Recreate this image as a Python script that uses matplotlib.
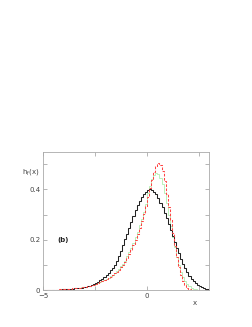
import numpy as np
import matplotlib
matplotlib.use("Agg")
import matplotlib.pyplot as plt
from matplotlib.ticker import MultipleLocator

# bin edges of the histograms (width 0.1, from -5 to 3)
bin_start = -5.0
bin_width = 0.1

h_black = [
    0.000, 0.000, 0.001, 0.001, 0.001, 0.001, 0.002, 0.002, 0.002, 0.003,
    0.003, 0.004, 0.004, 0.005, 0.006, 0.007, 0.008, 0.009, 0.010, 0.012,
    0.014, 0.016, 0.018, 0.021, 0.024, 0.028, 0.033, 0.039, 0.045, 0.052,
    0.060, 0.068, 0.078, 0.089, 0.101, 0.116, 0.134, 0.155, 0.178, 0.201,
    0.224, 0.248, 0.272, 0.296, 0.318, 0.337, 0.354, 0.369, 0.381, 0.391,
    0.398, 0.401, 0.398, 0.391, 0.380, 0.365, 0.348, 0.329, 0.308, 0.286,
    0.263, 0.240, 0.216, 0.192, 0.169, 0.146, 0.125, 0.105, 0.087, 0.071,
    0.057, 0.045, 0.035, 0.027, 0.020, 0.015, 0.011, 0.008, 0.005, 0.003,
]

h_green = [
    0.000, 0.000, 0.001, 0.001, 0.001, 0.002, 0.002, 0.002, 0.003, 0.003,
    0.004, 0.004, 0.005, 0.006, 0.006, 0.007, 0.008, 0.009, 0.011, 0.012,
    0.014, 0.015, 0.017, 0.019, 0.022, 0.024, 0.027, 0.031, 0.034, 0.039,
    0.043, 0.048, 0.054, 0.060, 0.067, 0.075, 0.084, 0.094, 0.105, 0.117,
    0.135, 0.151, 0.169, 0.188, 0.209, 0.232, 0.257, 0.284, 0.312, 0.341,
    0.385, 0.415, 0.440, 0.457, 0.465, 0.460, 0.445, 0.420, 0.386, 0.345,
    0.300, 0.254, 0.210, 0.170, 0.133, 0.100, 0.073, 0.051, 0.035, 0.024,
    0.016, 0.010, 0.006, 0.004, 0.002, 0.001, 0.001, 0.000, 0.000, 0.000,
]

h_red = [
    0.000, 0.001, 0.001, 0.001, 0.002, 0.002, 0.002, 0.003, 0.003, 0.004,
    0.004, 0.005, 0.005, 0.006, 0.007, 0.008, 0.009, 0.010, 0.011, 0.013,
    0.014, 0.016, 0.018, 0.020, 0.022, 0.025, 0.028, 0.031, 0.035, 0.039,
    0.043, 0.048, 0.053, 0.059, 0.066, 0.073, 0.081, 0.090, 0.100, 0.111,
    0.128, 0.143, 0.160, 0.179, 0.200, 0.223, 0.248, 0.275, 0.304, 0.334,
    0.370, 0.405, 0.438, 0.468, 0.492, 0.505, 0.498, 0.472, 0.432, 0.383,
    0.330, 0.277, 0.226, 0.176, 0.130, 0.090, 0.058, 0.035, 0.019, 0.009,
    0.004, 0.002, 0.001, 0.000, 0.000, 0.000, 0.000, 0.000, 0.000, 0.000,
]

edges = bin_start + bin_width * np.arange(len(h_black) + 1)

fig = plt.figure(figsize=(2.53, 3.27), dpi=100)
ax = fig.add_axes([0.171, 0.113, 0.656, 0.423])

ax.stairs(h_green, edges, color="#b0f0b0", lw=0.6)
ax.stairs(h_black, edges, color="#222222", lw=0.75)
ax.stairs(h_red, edges, color="#ff4444", lw=0.75, linestyle=(0, (2.5, 1.5)))

ax.set_xlim(-5, 3)
ax.set_ylim(0, 0.55)
ax.xaxis.set_minor_locator(MultipleLocator(2.5))
ax.yaxis.set_minor_locator(MultipleLocator(0.1))
ax.set_yticks([0, 0.2, 0.4])
ax.set_yticklabels(["0", "0.2", "0.4"])
ax.set_xticks([-5, 0])
ax.set_xticklabels(["\u22125", "0"])

for s in ax.spines.values():
    s.set_color("#aaaaaa")
    s.set_linewidth(0.6)
ax.tick_params(which="both", direction="in", top=True, right=True,
               color="#aaaaaa", labelsize=5, labelcolor="#444444", pad=2,
               length=3, width=0.6)

ax.text(-0.13, 0.855, "h$_\\mathregular{f}$(x)", transform=ax.transAxes,
        fontsize=5, color="#444444", ha="left", va="center")
ax.text(2.3, -0.05, "x", fontsize=5, color="#444444", ha="center", va="center")
ax.text(-4.05, 0.2, "(b)", fontsize=5, fontweight="bold", color="#222222",
        ha="center", va="center")

fig.savefig("out.png", dpi=100)
